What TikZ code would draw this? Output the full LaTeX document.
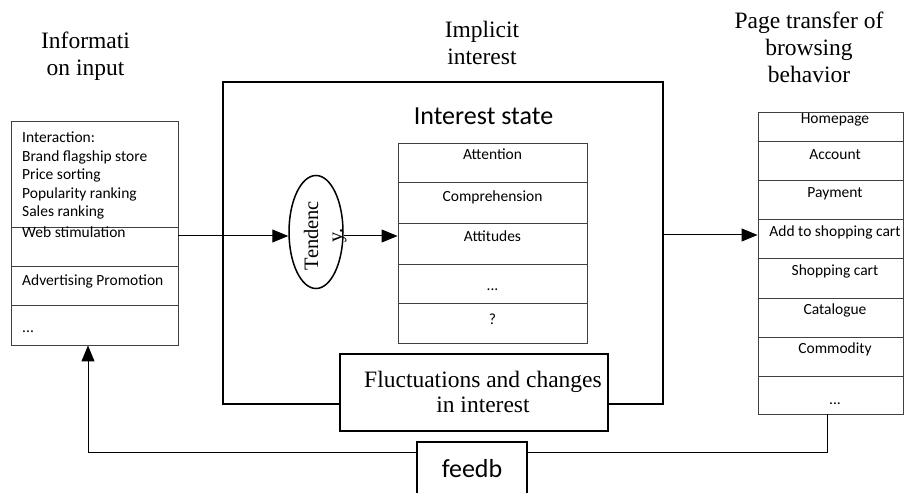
\documentclass[tikz,border=0pt]{standalone}
\usepackage{fontspec}
\setmainfont{Liberation Serif}
\newfontfamily\calfont{Carlito}
\usetikzlibrary{arrows.meta,shapes.geometric}
\begin{document}
\begin{tikzpicture}[x=1bp,y=-1bp,
  title/.style={font=\fontsize{23.5bp}{27bp}\selectfont, align=center, inner sep=0pt, anchor=north},
  cell/.style={draw=black!75, line width=0.9bp, inner sep=0pt, minimum width=#1},
  celltext/.style={font=\calfont\fontsize{15.5bp}{18.5bp}\selectfont, inner sep=0pt, anchor=base},
  heavy/.style={draw, line width=2bp, inner sep=0pt},
  arr/.style={line width=1bp, -{Triangle[length=16bp,width=13bp]}}
]
\useasboundingbox (0,0) rectangle (904,493);
\clip (0,0) rectangle (904,493);

% column titles
\node[title] (tin) at (85.5,30) {\rule{0pt}{18bp}Informati\\on input};
\node[title] (timp) at (482,19) {\rule{0pt}{18bp}Implicit\\interest};
\node[title] (tpage) at (809,10) {\rule{0pt}{18bp}Page transfer of\\browsing\\behavior};

% information input column
\node[cell=167bp, minimum height=106bp] (in1) at (94.5,174) {};
\node[cell=167bp, minimum height=39bp] (in2) at (94.5,246.5) {};
\node[cell=167bp, minimum height=39bp] (in3) at (94.5,285.5) {};
\node[cell=167bp, minimum height=40bp] (in4) at (94.5,325) {};
\node[celltext, align=left, anchor=north west] (in1t) at (22,132)
  {\rule{0pt}{10bp}Interaction:\\Brand flagship store\\Price sorting\\Popularity ranking\\Sales ranking};
\node[celltext, anchor=base west] (in2t) at (22,238) {Web stimulation};
\node[celltext, anchor=base west] (in3t) at (22,286) {Advertising Promotion};
\node[celltext, anchor=base west] (in4t) at (22,333) {...};

% implicit interest frame
\node[heavy, minimum width=440bp, minimum height=322bp] (main) at (443,243) {};
\node[font=\calfont\fontsize{26bp}{30bp}\selectfont, inner sep=0pt, anchor=base] (sttitle) at (483.5,125) {Interest state};

% interest state column
\node[cell=189bp, minimum height=39bp] (st1) at (492.5,162.5) {};
\node[cell=189bp, minimum height=41bp] (st2) at (492.5,202.5) {};
\node[cell=189bp, minimum height=41bp] (st3) at (492.5,243.5) {};
\node[cell=189bp, minimum height=39bp] (st4) at (492.5,283.5) {};
\node[cell=189bp, minimum height=40bp] (st5) at (492.5,323) {};
\node[celltext] (st1t) at (492.5,160) {Attention};
\node[celltext] (st2t) at (492.5,202) {Comprehension};
\node[celltext] (st3t) at (492.5,242) {Attitudes};
\node[celltext] (st4t) at (492.5,291) {...};
\node[celltext] (st5t) at (492.5,325) {?};

% tendency
\node[ellipse, draw, line width=1.5bp, minimum width=54bp, minimum height=113bp, inner sep=0pt] (tend) at (316,232) {};
\node[font=\fontsize{20.5bp}{24bp}\selectfont, align=center, inner sep=0pt, rotate=90, anchor=north] (tendt) at (302,235.5) {\rule{0pt}{16bp}Tendenc\\y.};

% fluctuation box over the bottom edge of the frame
\node[heavy, fill=white, minimum width=268bp, minimum height=77bp] (fluct) at (474,392.5) {};
\node[font=\fontsize{23.5bp}{25bp}\selectfont, align=center, inner sep=0pt, anchor=north] (fluctt) at (483,370) {\rule{0pt}{17bp}Fluctuations and changes\\in interest};

% page transfer column
\node[cell=145bp, minimum height=29bp] (pg1) at (830.5,126.5) {};
\node[cell=145bp, minimum height=39bp] (pg2) at (830.5,160.5) {};
\node[cell=145bp, minimum height=39bp] (pg3) at (830.5,199.5) {};
\node[cell=145bp, minimum height=39bp] (pg4) at (830.5,238.5) {};
\node[cell=145bp, minimum height=40bp] (pg5) at (830.5,278) {};
\node[cell=145bp, minimum height=39bp] (pg6) at (830.5,317.5) {};
\node[cell=145bp, minimum height=39bp] (pg7) at (830.5,356.5) {};
\node[cell=145bp, minimum height=38bp] (pg8) at (830.5,395) {};
\node[celltext] (pg1t) at (835,124) {Homepage};
\node[celltext] (pg2t) at (835,160) {Account};
\node[celltext] (pg3t) at (835,198) {Payment};
\node[celltext] (pg4t) at (835,237) {Add to shopping cart};
\node[celltext] (pg5t) at (835,276) {Shopping cart};
\node[celltext] (pg6t) at (835,315) {Catalogue};
\node[celltext] (pg7t) at (835,354) {Commodity};
\node[celltext] (pg8t) at (835,404) {...};

% connectors
\coordinate (a1) at (178,236);
\draw[arr] (a1) -- (a1 -| tend.west);
\draw[arr] (a1 -| tend.east) -- (a1 -| st3.west);
\coordinate (a3) at (663,235);
\draw[arr] (a3) -- (a3 -| pg4.west);

% feedback loop
\coordinate (f1) at (827,452);
\coordinate (f2) at (88,452);
\draw[arr] (f1 |- pg8.south) -- (f1) -- (f2) -- (f2 |- in4.south);
\node[heavy, fill=white, minimum width=110bp, minimum height=70bp, anchor=north] (fb) at (472,441) {};
\node[font=\calfont\fontsize{26bp}{30bp}\selectfont, inner sep=0pt, anchor=base] (fbt) at (472,477) {feedb};
\end{tikzpicture}
\end{document}
